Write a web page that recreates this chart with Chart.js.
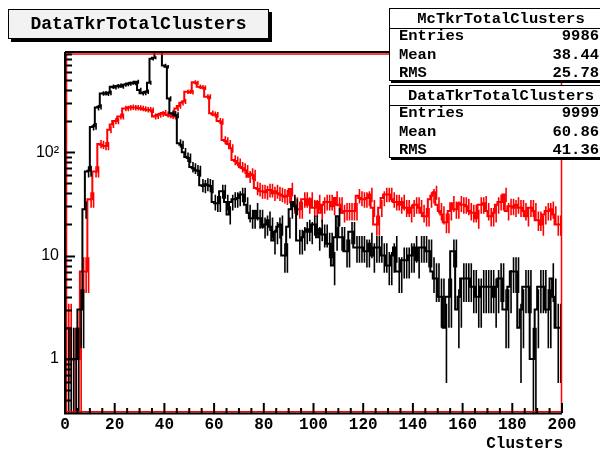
<!DOCTYPE html>
<html>
<head>
<meta charset="utf-8">
<script src="https://cdn.jsdelivr.net/npm/chart.js@4/dist/chart.umd.min.js"></script>
<style>
body { margin: 0; background: #fff; }
#wrap { position: relative; width: 600px; height: 451px; overflow: hidden;
        font-family: 'Liberation Mono', 'Courier New', monospace; font-weight: bold; color: #000; }
canvas { position: absolute; left: 0; top: 0; }
.title { position: absolute; left: 8px; top: 9px; width: 259px; height: 28px; background: #f2f2f2;
         border: 1px solid #000; box-shadow: 3px 3px 0 #000; font-size: 18px; line-height: 28px; text-align: center; }
.pave { position: absolute; left: 389px; width: 222px; height: 71px; background: #fff;
        border: 1px solid #000; box-shadow: 2px 2px 0 #000; }
.sep { position: absolute; left: 0; right: 0; border-top: 1px solid #000; }
.txt { position: absolute; height: 20px; line-height: 20px; font-size: 15.5px; white-space: nowrap; }
.hdr { left: 0; right: 0; text-align: center; }
.lab { left: 9px; }
.val { right: 13px; text-align: right; }
</style>
</head>
<body>
<div id="wrap">
  <canvas id="histChart" width="600" height="451"></canvas>
  <div class="title">DataTkrTotalClusters</div>
  <div class="pave" id="pave0" style="top:8px"></div>
  <div class="pave" id="pave1" style="top:85px"></div>
</div>
<script>
// bins of width 1 from 0 to 200
const xMin = 0;
const xMax = 200;
const xTickStep = 20;

// black histogram
const mcCounts = [
  1, 1, 1, 1, 1, 1, 3, 3, 28, 65,
  66, 175, 178, 270, 275, 370, 372, 368, 375, 430,
  425, 435, 440, 432, 450, 455, 460, 470, 465, 480,
  400, 372, 375, 385, 470, 800, 820, 930, 950, 940,
  690, 670, 330, 238, 235, 228, 122, 118, 100, 90,
  88, 72, 70, 67, 66, 48, 47, 49, 48, 47,
  33, 32, 32, 42, 42, 33, 25, 33, 35, 35,
  36, 39, 39, 31, 26, 23, 23, 27, 23, 23,
  19, 20, 22, 19, 14, 17, 19, 20, 10, 10,
  19, 28, 33, 30, 14, 14, 15, 17, 18, 17,
  20, 20, 15, 18, 16, 16, 13, 13, 8, 15,
  24, 15, 15, 11, 11, 17, 17, 12, 12, 12,
  12, 11, 11, 13, 10, 12, 12, 12, 10, 10,
  8, 8, 10, 12, 7, 7, 9, 9, 9, 10,
  10, 12, 9, 12, 12, 12, 11, 11, 7, 6,
  6, 4, 4, 2, 4, 4, 11, 11, 3, 4,
  6, 6, 6, 6, 5, 5, 4, 4, 5, 5,
  5, 5, 5, 4, 5, 6, 6, 3, 3, 5,
  7, 7, 7, 2, 3, 5, 5, 5, 1, 1,
  3, 5, 5, 5, 3, 3, 6, 4, 2, 2
];

// red histogram
const dataCounts = [
  2, 2, 2, 1, 1, 1, 1, 7, 7, 7,
  35, 35, 65, 65, 120, 118, 115, 115, 165, 185,
  200, 200, 222, 222, 265, 265, 270, 272, 270, 270,
  268, 265, 262, 258, 258, 255, 222, 225, 230, 235,
  240, 232, 228, 225, 222, 265, 280, 300, 310, 385,
  385, 380, 474, 470, 430, 425, 420, 344, 344, 238,
  232, 230, 200, 198, 131, 128, 120, 109, 84, 82,
  78, 72, 70, 67, 58, 62, 60, 45, 44, 42,
  42, 41, 43, 43, 40, 42, 40, 39, 38, 37,
  38, 44, 31, 31, 28, 28, 35, 35, 31, 35,
  29, 29, 33, 26, 31, 33, 33, 33, 30, 36,
  31, 31, 26, 27, 27, 27, 27, 27, 38, 36,
  35, 35, 36, 39, 29, 20, 20, 29, 36, 39,
  39, 39, 35, 33, 33, 31, 33, 29, 29, 26,
  29, 31, 31, 29, 26, 24, 24, 35, 38, 41,
  31, 27, 25, 21, 21, 27, 32, 28, 28, 32,
  31, 31, 30, 27, 26, 26, 23, 31, 31, 32,
  27, 24, 24, 26, 31, 33, 33, 39, 27, 30,
  30, 29, 31, 29, 29, 27, 24, 29, 29, 27,
  22, 22, 20, 25, 27, 27, 28, 25, 20, 20
];

const yMin = 0.303;
const yMax = 911;
const yLabelValues = [1, 10, 100];
const yLabelText = ['1', '10', '10\u00b2'];

const statsBoxes = [
  { name: 'McTkrTotalClusters', rows: [['Entries', '9986'], ['Mean', '38.44'], ['RMS', '25.78']] },
  { name: 'DataTkrTotalClusters', rows: [['Entries', '9999'], ['Mean', '60.86'], ['RMS', '41.36']] }
];

const axisTitle = 'Clusters';
const monoFont = "'Liberation Mono', 'Courier New', monospace";

document.addEventListener('DOMContentLoaded', () => {
    buildStats();
    drawChart();
});

function buildStats() {
    statsBoxes.forEach((box, b) => {
        const el = document.getElementById('pave' + b);
        let html = `<div class="txt hdr" style="top:0px">${box.name}</div>`;
        html += '<div class="sep" style="top:19px"></div>';
        box.rows.forEach((r, i) => {
            const top = 17 + i * 18.5;
            html += `<div class="txt lab" style="top:${top}px">${r[0]}</div>`;
            html += `<div class="txt val" style="top:${top}px">${r[1]}</div>`;
        });
        el.innerHTML = html;
    });
}

function stepPoints(counts) {
    const floor = 1e-3;
    const pts = counts.map((c, i) => ({ x: xMin + i, y: c > 0 ? c : floor }));
    const last = counts[counts.length - 1];
    pts.push({ x: xMin + counts.length, y: last > 0 ? last : floor });
    return pts;
}

const errorBars = {
    id: 'errorBars',
    afterDatasetDraw(chart, args) {
        const ds = chart.data.datasets[args.index];
        const { ctx, chartArea: a, scales: { x, y } } = chart;
        ctx.save();
        ctx.beginPath();
        ctx.rect(a.left, a.top, a.right - a.left, a.bottom - a.top);
        ctx.clip();
        ctx.strokeStyle = ds.borderColor;
        ctx.lineWidth = 1.6;
        ctx.beginPath();
        ds.counts.forEach((c, i) => {
            if (c <= 0) return;
            const e = Math.sqrt(c);
            const px = x.getPixelForValue(xMin + i + 0.5);
            const lo = c - e > 0 ? c - e : yMin / 10;
            ctx.moveTo(px, y.getPixelForValue(c + e));
            ctx.lineTo(px, y.getPixelForValue(lo));
        });
        ctx.stroke();
        ctx.restore();
    }
};

const frame = {
    id: 'frame',
    afterDraw(chart) {
        const { ctx, chartArea: a, scales: { x, y } } = chart;
        ctx.save();
        // red pad frame
        ctx.strokeStyle = '#ff0000';
        ctx.lineWidth = 1.5;
        ctx.beginPath();
        ctx.moveTo(a.left + 1.5, a.top + 1);
        ctx.lineTo(a.right - 0.5, a.top + 1);
        ctx.lineTo(a.right - 0.5, a.bottom - 1.2);
        ctx.lineTo(a.left + 1.5, a.bottom - 1.2);
        ctx.closePath();
        ctx.stroke();

        // black axes
        ctx.strokeStyle = '#000';
        ctx.lineWidth = 2;
        ctx.beginPath();
        ctx.moveTo(a.left, a.top - 1);
        ctx.lineTo(a.left, a.bottom + 0.5);
        ctx.lineTo(a.right, a.bottom + 0.5);
        ctx.moveTo(a.left, a.top - 1);
        ctx.lineTo(a.right, a.top - 1);
        ctx.stroke();

        // x ticks
        ctx.beginPath();
        for (let v = xMin; v <= xMax; v += 5) {
            const px = x.getPixelForValue(v);
            const len = v % xTickStep === 0 ? 10 : 5;
            ctx.moveTo(px, a.bottom);
            ctx.lineTo(px, a.bottom - len);
        }
        // y ticks
        for (let d = 0.1; d <= 1000; d *= 10) {
            for (let k = 1; k <= 9; k++) {
                const v = k * d;
                if (v < yMin || v > yMax) continue;
                const py = Math.round(y.getPixelForValue(v)) + 0.5;
                ctx.moveTo(a.left, py);
                ctx.lineTo(a.left + (k === 1 ? 10 : 7), py);
            }
        }
        ctx.stroke();

        // axis title
        ctx.fillStyle = '#000';
        ctx.font = 'bold 16px ' + monoFont;
        ctx.textAlign = 'right';
        ctx.textBaseline = 'middle';
        ctx.fillText(axisTitle, a.right + 1, 444);
        ctx.restore();
    }
};

function drawChart() {
    const ctx = document.getElementById('histChart').getContext('2d');
    new Chart(ctx, {
        type: 'line',
        data: {
            datasets: [
                { label: statsBoxes[0].name, data: stepPoints(mcCounts), counts: mcCounts,
                  borderColor: '#000000', borderWidth: 2, stepped: 'after', pointRadius: 0, fill: false },
                { label: statsBoxes[1].name, data: stepPoints(dataCounts), counts: dataCounts,
                  borderColor: '#ff0000', borderWidth: 2, stepped: 'after', pointRadius: 0, fill: false }
            ]
        },
        options: {
            responsive: false,
            animation: false,
            layout: { padding: { top: 53, right: 38, left: 0, bottom: 0 } },
            plugins: { legend: { display: false }, tooltip: { enabled: false } },
            scales: {
                x: {
                    type: 'linear', min: xMin, max: xMax,
                    grid: { display: false, drawTicks: false },
                    border: { display: false },
                    afterFit: s => { s.height = 38; },
                    afterBuildTicks: s => {
                        const t = [];
                        for (let v = xMin; v <= xMax; v += xTickStep) t.push({ value: v });
                        s.ticks = t;
                    },
                    ticks: { color: '#000', padding: 2, maxRotation: 0, autoSkip: false,
                             font: { family: monoFont, weight: 'bold', size: 16 } }
                },
                y: {
                    type: 'logarithmic', min: yMin, max: yMax,
                    grid: { display: false, drawTicks: false },
                    border: { display: false },
                    afterFit: s => { s.width = 65; },
                    afterBuildTicks: s => { s.ticks = yLabelValues.map(v => ({ value: v })); },
                    ticks: { color: '#000', padding: 6, autoSkip: false,
                             font: { family: "'Liberation Sans', Arial, sans-serif", size: 16 },
                             callback: v => yLabelText[yLabelValues.indexOf(v)] }
                }
            }
        },
        plugins: [errorBars, frame]
    });
}
</script>
</body>
</html>
